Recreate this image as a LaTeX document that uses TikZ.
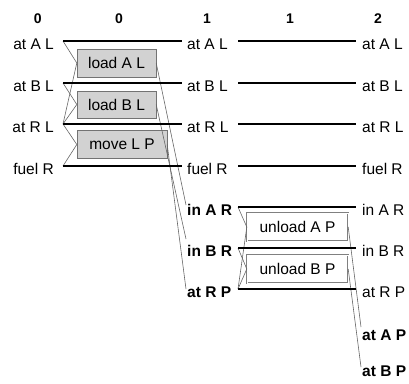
\documentclass[tikz,border=0pt]{standalone}
\usepackage{fontspec}
\setmainfont{Liberation Sans}
\begin{document}
\begin{tikzpicture}[x=1pt,y=-1pt,
  txt/.style={inner sep=0pt, text height=16pt, text depth=0pt, font=\fontsize{15.5}{18}\selectfont},
  p0/.style={txt, anchor=east},
  p1/.style={txt, anchor=west},
  newp/.style={font=\bfseries\fontsize{15.5}{18}\selectfont},
  hdr/.style={inner sep=0pt, font=\bfseries\fontsize{14}{16}\selectfont},
  act0/.style={draw=gray!90!black, fill=gray!35, inner sep=0pt, minimum height=28pt, font=\fontsize{15.5}{18}\selectfont},
  act1/.style={draw=gray, double=white, double distance=1pt, inner sep=0pt, minimum height=28pt, font=\fontsize{15.5}{18}\selectfont},
  noop/.style={line width=1.6pt, black},
  edge/.style={black!60, line width=0.6pt}]
\useasboundingbox (0,0) rectangle (409,383);
% headers
\node[hdr] (h0) at (37.7,19) {0};
\node[hdr] (h1) at (119,19) {0};
\node[hdr] (h2) at (207,19) {1};
\node[hdr] (h3) at (290,19) {1};
\node[hdr] (h4) at (378,19) {2};
% level 0 propositions
\node[p0] (a0AL) at (54,41) {at A L};
\node[p0] (a0BL) at (54,83) {at B L};
\node[p0] (a0RL) at (54,124) {at R L};
\node[p0] (a0fR) at (54,166) {fuel R};
% level 1 propositions
\node[p1] (a1AL) at (187,41) {at A L};
\node[p1] (a1BL) at (187,83) {at B L};
\node[p1] (a1RL) at (187,124) {at R L};
\node[p1] (a1fR) at (187,166) {fuel R};
\node[p1,newp] (a1inA) at (187,207) {in A R};
\node[p1,newp] (a1inB) at (187,248) {in B R};
\node[p1,newp] (a1atRP) at (187,289) {at R P};
% level 2 propositions
\node[p1] (a2AL) at (362,41) {at A L};
\node[p1] (a2BL) at (362,83) {at B L};
\node[p1] (a2RL) at (362,124) {at R L};
\node[p1] (a2fR) at (362,166) {fuel R};
\node[p1] (a2inA) at (362,207) {in A R};
\node[p1] (a2inB) at (362,248) {in B R};
\node[p1] (a2atRP) at (362,289) {at R P};
\node[p1,newp] (a2atAP) at (362,332) {at A P};
\node[p1,newp] (a2atBP) at (362,368) {at B P};
% actions
\node[act0, minimum width=79pt] (lAL) at (116.5,63) {load A L};
\node[act0, minimum width=79pt, minimum height=27pt] (lBL) at (116.5,104.5) {load B L};
\node[act0, minimum width=90pt] (mLP) at (122,144.5) {move L P};
\node[act1, minimum width=101pt] (uAP) at (297.5,227) {unload A P};
\node[act1, minimum width=101pt] (uBP) at (297.5,269) {unload B P};
% preconditions level 0
\draw[edge] ([xshift=9pt]a0AL.east) -- (lAL.west);
\draw[edge] ([xshift=9pt]a0RL.east) -- (lAL.west);
\draw[edge] ([xshift=9pt]a0BL.east) -- (lBL.west);
\draw[edge] ([xshift=9pt]a0RL.east) -- (lBL.west);
\draw[edge] ([xshift=9pt]a0RL.east) -- (mLP.west);
\draw[edge] ([xshift=9pt]a0fR.east) -- (mLP.west);
% effects level 0
\draw[edge] (lAL.east) -- ([xshift=-1pt,yshift=2pt]a1inA.west);
\draw[edge] (lBL.east) -- ([xshift=-1pt,yshift=9pt]a1inB.west);
\draw[edge] (mLP.east) -- ([xshift=-1pt]a1atRP.west);
% preconditions level 1
\draw[edge] ([xshift=51pt]a1inA.west) -- (uAP.west);
\draw[edge] ([xshift=51pt]a1atRP.west) -- (uAP.west);
\draw[edge] ([xshift=51pt]a1inB.west) -- (uBP.west);
\draw[edge] ([xshift=51pt]a1atRP.west) -- (uBP.west);
% effects level 1
\draw[edge] (uAP.east) -- ([xshift=-1pt,yshift=5pt]a2atAP.west);
\draw[edge] (uBP.east) -- ([xshift=-1pt,yshift=1pt]a2atBP.west);
% no-ops level 0 -> 1
\draw[noop] ([xshift=9pt]a0AL.east) -- ([xshift=-5pt]a1AL.west);
\draw[noop] ([xshift=9pt]a0BL.east) -- ([xshift=-5pt]a1BL.west);
\draw[noop] ([xshift=9pt]a0RL.east) -- ([xshift=-5pt]a1RL.west);
\draw[noop] ([xshift=9pt]a0fR.east) -- ([xshift=-5pt]a1fR.west);
% no-ops level 1 -> 2
\draw[noop] ([xshift=51pt]a1AL.west) -- ([xshift=-6pt]a2AL.west);
\draw[noop] ([xshift=51pt]a1BL.west) -- ([xshift=-6pt]a2BL.west);
\draw[noop] ([xshift=51pt]a1RL.west) -- ([xshift=-6pt]a2RL.west);
\draw[noop] ([xshift=51pt]a1fR.west) -- ([xshift=-6pt]a2fR.west);
\draw[noop] ([xshift=51pt]a1inA.west) -- ([xshift=-6pt]a2inA.west);
\draw[noop] ([xshift=51pt]a1inB.west) -- ([xshift=-6pt]a2inB.west);
\draw[noop] ([xshift=51pt]a1atRP.west) -- ([xshift=-6pt]a2atRP.west);
\end{tikzpicture}
\end{document}
